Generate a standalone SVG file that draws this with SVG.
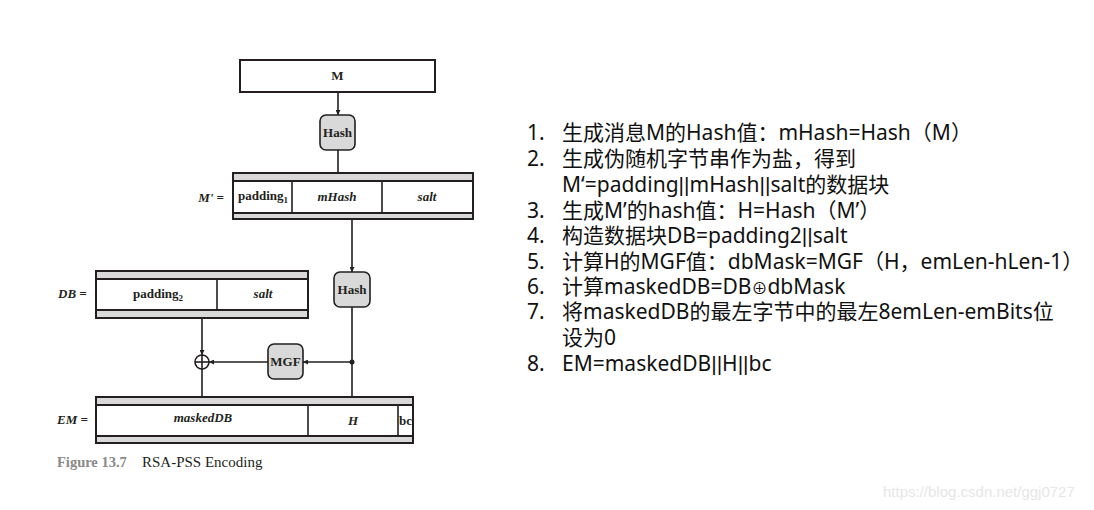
<svg xmlns="http://www.w3.org/2000/svg" width="1094" height="510" viewBox="0 0 1094 510">
<style>
.box{fill:#fff;stroke:#231f20;stroke-width:2}
.band{fill:#d9d9d9;stroke:#231f20;stroke-width:2}
.fn{fill:#d9d9d9;stroke:#231f20;stroke-width:1.6}
.ln{fill:none;stroke:#231f20;stroke-width:1.6}
.tb{font-family:"Liberation Serif",serif;font-weight:bold;font-size:13px;fill:#231f20}
.ti{font-family:"Liberation Serif",serif;font-weight:bold;font-style:italic;font-size:13px;fill:#231f20}
.cn{font-family:"Noto Sans","Noto Sans CJK SC",sans-serif;font-size:21px;fill:#111}
.bar{font-family:"Liberation Sans",sans-serif}
</style>
<defs>
<marker id="ar" viewBox="0 0 10 10" refX="10" refY="5" markerWidth="5" markerHeight="5" orient="auto" markerUnits="userSpaceOnUse">
<path d="M0,0 L10,5 L0,10 z" fill="#231f20"/>
</marker>
</defs>
<rect width="1094" height="510" fill="#fff"/>
<g id="connectors">
<line class="ln" x1="338" y1="92" x2="338" y2="115" marker-end="url(#ar)"/>
<line class="ln" x1="338" y1="150" x2="338" y2="179" marker-end="url(#ar)"/>
<line class="ln" x1="352" y1="219" x2="352" y2="272" marker-end="url(#ar)"/>
<line class="ln" x1="352" y1="307" x2="352" y2="403" marker-end="url(#ar)"/>
<line class="ln" x1="202" y1="318" x2="202" y2="355" marker-end="url(#ar)"/>
<line class="ln" x1="352" y1="362" x2="303" y2="362" marker-end="url(#ar)"/>
<line class="ln" x1="268" y1="362" x2="209" y2="362" marker-end="url(#ar)"/>
<line class="ln" x1="202" y1="369" x2="202" y2="403" marker-end="url(#ar)"/>
<circle cx="352" cy="362" r="2.5" fill="#231f20"/>
</g>
<g id="M">
<rect class="box" x="240" y="60" width="195" height="32"/>
<text class="tb" x="337.5" y="80" text-anchor="middle">M</text>
</g>
<g id="hash1">
<rect class="fn" x="320" y="115" width="35" height="35" rx="6"/>
<text class="tb" x="337.5" y="137" text-anchor="middle" font-size="12">Hash</text>
</g>
<g id="Mprime">
<text class="ti" x="224" y="202" text-anchor="end">M' =</text>
<rect class="band" x="233" y="173" width="240" height="46"/>
<rect class="box" x="233" y="181" width="240" height="32"/>
<line class="ln" x1="292" y1="181" x2="292" y2="213" stroke-width="2"/>
<line class="ln" x1="382" y1="181" x2="382" y2="213" stroke-width="2"/>
<text class="tb" x="238" y="200">padding<tspan font-size="9" dy="3">1</tspan></text>
<text class="ti" x="337" y="201" text-anchor="middle">mHash</text>
<text class="ti" x="427" y="201" text-anchor="middle">salt</text>
</g>
<g id="hash2">
<rect class="fn" x="334" y="272" width="36" height="35" rx="6"/>
<text class="tb" x="352" y="294" text-anchor="middle" font-size="12">Hash</text>
</g>
<g id="DB">
<text class="ti" x="58" y="298">DB =</text>
<rect class="band" x="96" y="271" width="212" height="47"/>
<rect class="box" x="96" y="279" width="212" height="31"/>
<line class="ln" x1="217" y1="279" x2="217" y2="310" stroke-width="2"/>
<text class="tb" x="158" y="298" text-anchor="middle">padding<tspan font-size="9" dy="3">2</tspan></text>
<text class="ti" x="263" y="298" text-anchor="middle">salt</text>
</g>
<g id="xor">
<circle cx="202" cy="362" r="7" fill="#fff" stroke="#231f20" stroke-width="1.6"/>
<line class="ln" x1="195" y1="362" x2="209" y2="362"/>
<line class="ln" x1="202" y1="355" x2="202" y2="369"/>
</g>
<g id="MGF">
<rect class="fn" x="268" y="344" width="35" height="35" rx="6"/>
<text class="tb" x="285.5" y="366" text-anchor="middle" font-size="12">MGF</text>
</g>
<g id="EM">
<text class="ti" x="57" y="424">EM =</text>
<rect class="band" x="96" y="397" width="317" height="46"/>
<rect class="box" x="96" y="405" width="317" height="31"/>
<line class="ln" x1="308" y1="405" x2="308" y2="436" stroke-width="2"/>
<line class="ln" x1="398" y1="405" x2="398" y2="436" stroke-width="2"/>
<text class="ti" x="203" y="422" text-anchor="middle">maskedDB</text>
<text class="ti" x="353" y="425" text-anchor="middle">H</text>
<text class="tb" x="399" y="425">bc</text>
</g>
<g id="caption">
<text x="57" y="467" font-family="Liberation Serif,serif" font-weight="bold" font-size="14.5" fill="#8a8a8a">Figure 13.7</text>
<text x="142" y="467" font-family="Liberation Serif,serif" font-size="15" fill="#231f20">RSA-PSS Encoding</text>
</g>
<g id="steps" class="cn">
<text x="527" y="140">1.</text><text x="562" y="140">生成消息M的Hash值：mHash=Hash（M）</text>
<text x="527" y="166">2.</text><text x="562" y="166">生成伪随机字节串作为盐，得到</text>
<text x="562" y="192">M‘=padding<tspan class="bar">||</tspan>mHash<tspan class="bar">||</tspan>salt的数据块</text>
<text x="527" y="218">3.</text><text x="562" y="218">生成M’的hash值：H=Hash（M’）</text>
<text x="527" y="243">4.</text><text x="562" y="243">构造数据块DB=padding2<tspan class="bar">||</tspan>salt</text>
<text x="527" y="269">5.</text><text x="562" y="269">计算H的MGF值：dbMask=MGF（H，emLen-hLen-1）</text>
<text x="527" y="294">6.</text><text x="562" y="294">计算maskedDB=DB<tspan font-size="16">⊕</tspan>dbMask</text>
<text x="527" y="319">7.</text><text x="562" y="319">将maskedDB的最左字节中的最左8emLen-emBits位</text>
<text x="562" y="345">设为0</text>
<text x="527" y="371">8.</text><text x="562" y="371">EM=maskedDB<tspan class="bar">||</tspan>H<tspan class="bar">||</tspan>bc</text>
</g>
<text x="883" y="497" font-family="Liberation Sans,sans-serif" font-size="15" fill="#e6e6e6">https://blog.csdn.net/ggj0727</text>
</svg>
